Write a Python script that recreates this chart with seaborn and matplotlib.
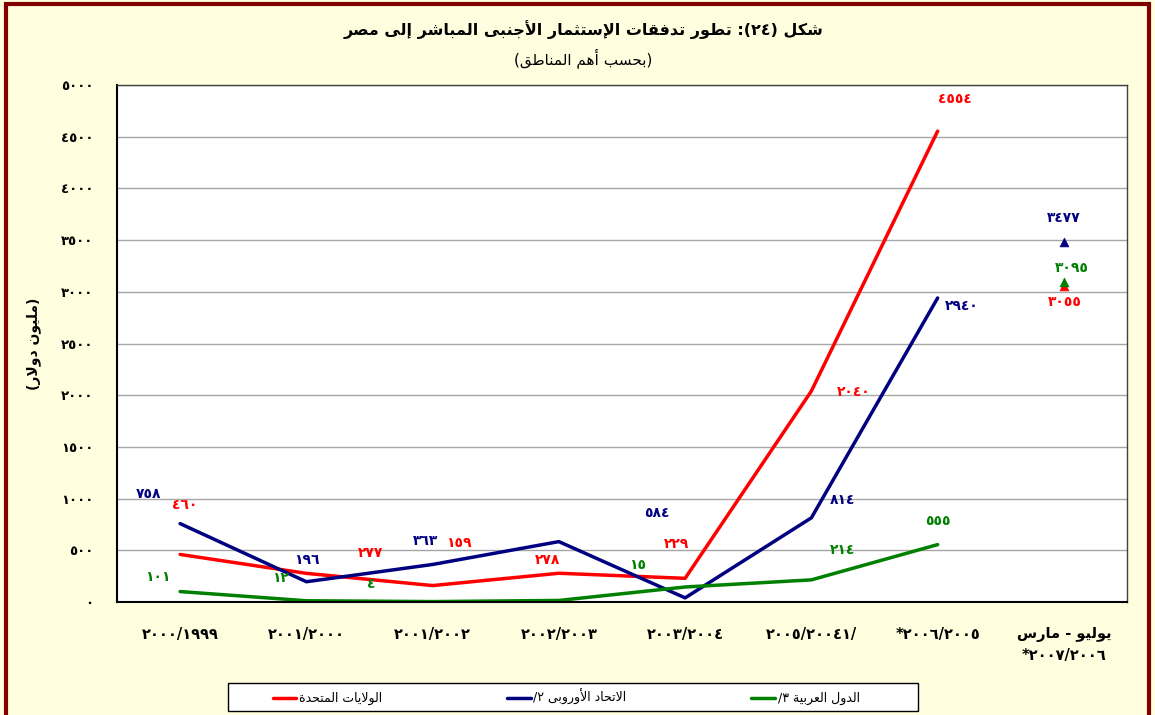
import re
import matplotlib
matplotlib.use("Agg")
import matplotlib.pyplot as plt
import matplotlib.patches as mpatches
from matplotlib.lines import Line2D
import seaborn as sns
import pandas as pd
import numpy as np

# Arabic presentation forms: isolated, final, initial, medial
FORMS = {
    'ا': ('\uFE8D', '\uFE8E'), 'أ': ('\uFE83', '\uFE84'), 'إ': ('\uFE87', '\uFE88'),
    'آ': ('\uFE81', '\uFE82'), 'ة': ('\uFE93', '\uFE94'), 'د': ('\uFEA9', '\uFEAA'),
    'ذ': ('\uFEAB', '\uFEAC'), 'ر': ('\uFEAD', '\uFEAE'), 'ز': ('\uFEAF', '\uFEB0'),
    'و': ('\uFEED', '\uFEEE'), 'ى': ('\uFEEF', '\uFEF0'),
    'ب': ('\uFE8F', '\uFE90', '\uFE91', '\uFE92'), 'ت': ('\uFE95', '\uFE96', '\uFE97', '\uFE98'),
    'ث': ('\uFE99', '\uFE9A', '\uFE9B', '\uFE9C'), 'ج': ('\uFE9D', '\uFE9E', '\uFE9F', '\uFEA0'),
    'ح': ('\uFEA1', '\uFEA2', '\uFEA3', '\uFEA4'), 'خ': ('\uFEA5', '\uFEA6', '\uFEA7', '\uFEA8'),
    'س': ('\uFEB1', '\uFEB2', '\uFEB3', '\uFEB4'), 'ش': ('\uFEB5', '\uFEB6', '\uFEB7', '\uFEB8'),
    'ص': ('\uFEB9', '\uFEBA', '\uFEBB', '\uFEBC'), 'ض': ('\uFEBD', '\uFEBE', '\uFEBF', '\uFEC0'),
    'ط': ('\uFEC1', '\uFEC2', '\uFEC3', '\uFEC4'), 'ظ': ('\uFEC5', '\uFEC6', '\uFEC7', '\uFEC8'),
    'ع': ('\uFEC9', '\uFECA', '\uFECB', '\uFECC'), 'غ': ('\uFECD', '\uFECE', '\uFECF', '\uFED0'),
    'ف': ('\uFED1', '\uFED2', '\uFED3', '\uFED4'), 'ق': ('\uFED5', '\uFED6', '\uFED7', '\uFED8'),
    'ك': ('\uFED9', '\uFEDA', '\uFEDB', '\uFEDC'), 'ل': ('\uFEDD', '\uFEDE', '\uFEDF', '\uFEE0'),
    'م': ('\uFEE1', '\uFEE2', '\uFEE3', '\uFEE4'), 'ن': ('\uFEE5', '\uFEE6', '\uFEE7', '\uFEE8'),
    'ه': ('\uFEE9', '\uFEEA', '\uFEEB', '\uFEEC'), 'ي': ('\uFEF1', '\uFEF2', '\uFEF3', '\uFEF4'),
}
LAM_ALEF = {'ا': ('\uFEFB', '\uFEFC'), 'أ': ('\uFEF7', '\uFEF8'),
            'إ': ('\uFEF9', '\uFEFA'), 'آ': ('\uFEF5', '\uFEF6')}
MIRROR = {'(': ')', ')': '('}


def ar(text):
    # shape arabic letters, then put them in visual (left to right) order
    shaped = []
    i = 0
    while i < len(text):
        c = text[i]
        prev = text[i - 1] if i > 0 else ''
        nxt = text[i + 1] if i + 1 < len(text) else ''
        join_prev = prev in FORMS and len(FORMS[prev]) == 4
        if c == 'ل' and nxt in LAM_ALEF:
            shaped.append(LAM_ALEF[nxt][1 if join_prev else 0])
            i += 2
            continue
        if c in FORMS:
            f = FORMS[c]
            join_next = len(f) == 4 and nxt in FORMS
            if join_prev and join_next:
                shaped.append(f[3])
            elif join_prev:
                shaped.append(f[1])
            elif join_next:
                shaped.append(f[2])
            else:
                shaped.append(f[0])
        else:
            shaped.append(c)
        i += 1
    tokens = re.findall(r'[0-9\u0660-\u0669]+|.', ''.join(shaped))
    return ''.join(MIRROR.get(t, t) for t in reversed(tokens))


def ind(v):
    return str(v).translate(str.maketrans('0123456789', '٠١٢٣٤٥٦٧٨٩'))


# ---- data ----
categories = ['٢٠٠٠/١٩٩٩', '٢٠٠١/٢٠٠٠', '٢٠٠١/٢٠٠٢', '٢٠٠٢/٢٠٠٣',
              '٢٠٠٣/٢٠٠٤', '٢٠٠٥/٢٠٠٤١/', '*٢٠٠٦/٢٠٠٥',
              ar('يوليو - مارس') + '\n*٢٠٠٧/٢٠٠٦']
us_values = [460, 277, 159, 278, 229, 2040, 4554, 3055]
eu_values = [758, 196, 363, 584, 40, 814, 2940, 3477]
arab_values = [101, 12, 4, 15, 145, 214, 555, 3095]
y_ticks = [0, 500, 1000, 1500, 2000, 2500, 3000, 3500, 4000, 4500, 5000]

us_name = ar('الولايات المتحدة')
eu_name = ar('الاتحاد الأوروبى ٢/')
arab_name = ar('الدول العربية ٣/')

# label offsets in pixels (dx, dy), None = no label shown
us_offsets = [(5, 49), (64, 20), (26, 43), (-11, 13), (-9, 34), (42, -1), (17, 32), (1, -16)]
eu_offsets = [(-32, 30), (0, 22), (-7, 23), (98, 29), None, (31, 18), (24, -8), (0, 24)]
arab_offsets = [(-22, 15), (-26, 23), (-61, 18), (79, 35), None, (31, 30), (0, 24), (8, 14)]

RED, BLUE, GREEN = '#FF0000', '#000080', '#008000'

sns.set_style("white")
plt.rcParams['font.family'] = ['DejaVu Sans']
plt.rcParams['text.color'] = 'black'
plt.rcParams['axes.labelcolor'] = 'black'
plt.rcParams['xtick.color'] = 'black'
plt.rcParams['ytick.color'] = 'black'

fig = plt.figure(figsize=(11.55, 7.15), dpi=100, facecolor='#FFFFE0')
ax = fig.add_axes([117 / 1155, 113 / 715, 1010 / 1155, 517 / 715])
ax.set_facecolor('white')

x = np.arange(len(categories))
n_line = len(categories) - 1

series = [(us_values, RED, us_name, us_offsets),
          (eu_values, BLUE, eu_name, eu_offsets),
          (arab_values, GREEN, arab_name, arab_offsets)]

for values, color, name, offsets in series:
    # lines for the fiscal years, a single triangle for the last period
    sns.lineplot(x=x[:n_line], y=values[:n_line], color=color, lw=2.5, ax=ax)
    sns.scatterplot(x=[x[-1]], y=[values[-1]], color=color, marker='^', s=40,
                    edgecolor=color, ax=ax, zorder=4)
    for xi, v, off in zip(x, values, offsets):
        if off is None:
            continue
        ax.annotate(ind(v), (xi, v), xytext=off, textcoords='offset pixels',
                    ha='center', va='center', color=color, fontsize=10,
                    fontweight='bold')

ax.set_xlim(-0.5, len(categories) - 0.5)
ax.set_ylim(0, 5000)
ax.set_yticks(y_ticks)
ax.set_yticklabels([ind(t) for t in y_ticks], fontsize=9.5, fontweight='bold')
ax.set_xticks(x)
ax.set_xticklabels(categories, fontsize=10.5, fontweight='bold', linespacing=1.5)
ax.set_xticks(np.arange(-0.5, len(categories), 1), minor=True)
ax.tick_params(axis='x', which='major', length=0, pad=18)
ax.tick_params(axis='x', which='minor', length=7, width=1.2, direction='out', color='black')
ax.tick_params(axis='y', length=7, width=1.2, direction='out', color='black', pad=10)
ax.grid(axis='y', color='#A6A6A6', lw=1)
ax.set_axisbelow(True)
ax.set_xlabel('')
ax.set_ylabel(ar('(مليون دولار)'), fontsize=10, fontweight='bold', labelpad=14)

for side in ['left', 'bottom']:
    ax.spines[side].set_color('black')
    ax.spines[side].set_linewidth(1.5)
for side in ['top', 'right']:
    ax.spines[side].set_color('#404040')
    ax.spines[side].set_linewidth(1)

# title and subtitle
fig.text(0.505, 1 - 30 / 715, ar('شكل (٢٤): تطور تدفقات الإستثمار الأجنبى المباشر إلى مصر'),
         ha='center', va='center', fontsize=11.5, fontweight='bold')
fig.text(0.505, 1 - 58 / 715, ar('(بحسب أهم المناطق)'), ha='center', va='center', fontsize=11)

# legend at the bottom, with its box drawn separately
handles = [Line2D([], [], color=c, lw=2.5) for c in (RED, BLUE, GREEN)]
fig.legend(handles, [us_name, eu_name, arab_name], ncol=3,
           loc='center', bbox_to_anchor=(566 / 1155, 1 - 697 / 715),
           fontsize=9, frameon=False, handlelength=1.9, handletextpad=0.2,
           columnspacing=10.0, borderaxespad=0)
fig.patches.append(mpatches.Rectangle((228 / 1155, 1 - 711 / 715), 690 / 1155, 28 / 715,
                                      transform=fig.transFigure, fill=True,
                                      facecolor='white', edgecolor='black', lw=1, zorder=0))

# dark red outer border
fig.patches.append(mpatches.Rectangle((6 / 1155, -0.02), 1143 / 1155, 1.02 - 4 / 715,
                                      transform=fig.transFigure, fill=False,
                                      edgecolor='#800000', lw=3))

fig.savefig('out.png', dpi=100, facecolor=fig.get_facecolor())
